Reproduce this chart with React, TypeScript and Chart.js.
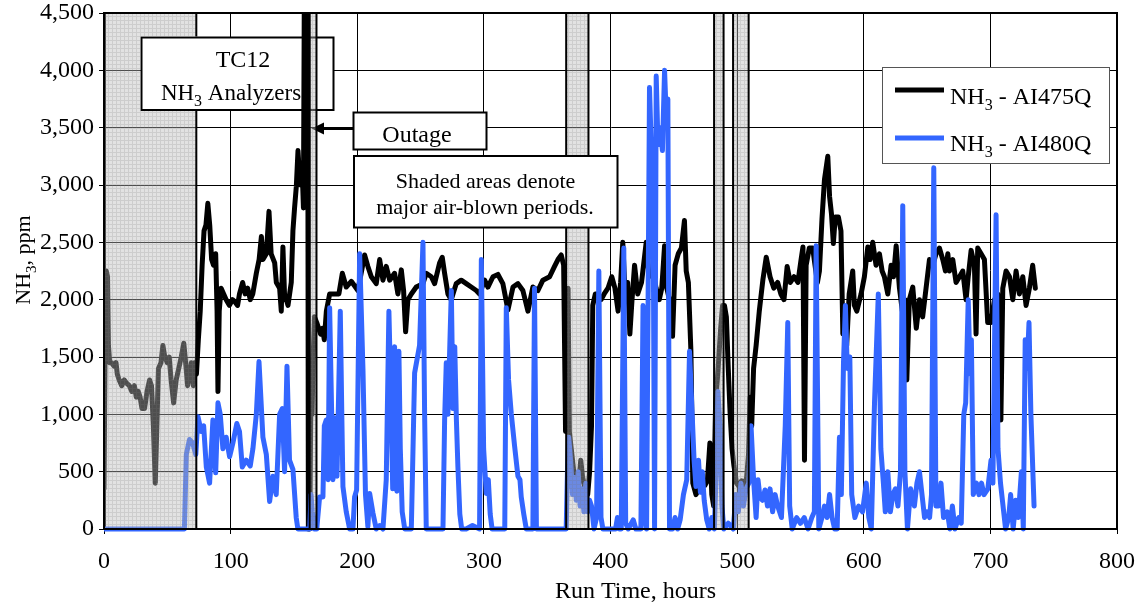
import React, { useEffect, useRef } from 'react';
import { Chart, registerables } from 'chart.js';

Chart.register(...registerables);

// ---------------- DATA ----------------
// NH3 - AI475Q (black)
const runHoursA = [
  0, 0.8, 1.8, 2.8, 3.5, 4.5, 6, 8, 9.5, 10.5, 12, 14, 16, 18, 20, 22, 24, 25.5, 27, 28.5, 30, 32, 34, 36, 37.5, 39, 40.5, 42, 43, 45, 46.5, 48, 50, 51.5, 53, 55, 57, 59, 61, 63, 64.5, 66, 67.5, 69, 70.5, 71.5, 73,
  74.5, 76, 77.5, 79, 80.5, 82, 83.5, 85, 86.5, 88.2, 89.3, 90, 91, 92.5, 94.5, 96.5, 99, 101.5, 103.5, 105.5, 107, 109.5, 111.5, 113.5, 115.5, 117.5, 120.3, 122.5, 124.3, 125.5, 128.2, 130.3, 132, 134.8, 136.1, 138.7, 140, 141.3, 142.7, 144, 145.3, 147.9, 149.2, 150.5, 151.9, 153.2, 154.3, 155.3, 156.6, 157.5,
  158.4, 160.8, 161.4, 162.5, 163.3, 164.3, 165.2, 166.2, 168, 169.5, 171, 172.5, 174, 175.6, 178.2, 180, 183.4, 185.5, 188.2, 191.3, 195.3, 200.5, 205.8, 208.4, 211.1, 215, 217.7, 220.3, 222.9, 225.6, 229.5, 232.1, 234.8, 236.6, 238.2, 240, 242.7, 246.6, 251.9, 254.5, 258.5, 261.1, 265, 267.1, 269, 271.6, 274.2, 278.2, 282.1, 286.1, 290, 294, 296.6, 300.6, 303.2, 307.2, 311.1, 315, 319, 323, 326.9, 330.8, 334.8, 338.7, 342.7, 346.6, 351.9, 355.8, 358.5, 361.1, 363,
  364.5, 365.5, 366.5, 367.5, 369, 371, 373, 375, 376.5, 378, 380, 382, 383.5, 385, 386, 388, 390, 392.5, 395, 398, 401, 403.5, 406, 408, 409.7, 411.5, 413.5, 415.3, 417, 419, 421.5, 424.5, 428.2, 430.5, 433.5, 436, 438.5, 440.5, 442.7, 444.5, 446.5, 449, 451, 453.5, 456, 458.4, 459.8, 461.5, 463.5, 465, 467.5, 470, 472.5, 474.5, 476.5, 478.5, 480, 481.5, 483, 485, 487, 488.5, 490, 491.5, 493, 494.5, 496, 497.5, 499.5, 501.5, 503.5, 505.5, 507.5, 509, 510.3, 511.5, 513, 515, 517.5, 520.3, 523, 526, 529, 532, 534.5, 537, 539.5, 542, 545, 548, 550.5, 552, 553.2, 554.5, 557, 559.7, 561.5, 563.4, 565, 567, 569, 571.6, 573, 574.5, 576, 577.5, 580, 582, 583.5, 585, 586.5, 588.5, 591.3, 592.6, 594.5, 597.9, 600.5, 603.2, 605, 607.1, 609.7, 612.4, 614.5, 616.3, 619, 621.6, 623.5, 625.6, 628.2, 630.5, 632.5, 634, 636, 638.7, 641.5, 644, 646.5, 649.2, 651.9, 654.5, 657.1, 659.8, 662.4, 664.5, 666.4, 667.7, 670.3, 672.9, 675.6, 678.2, 680.8, 682.5, 684.8, 687.4, 688.7, 690, 692.7, 695.3, 697.9, 700.6, 703.2, 705.8, 708.3, 709.8, 712.4, 715.1, 717.7, 720.3, 722.9, 725.6, 728.2, 730.8, 733.4, 735.5,
];
const nh3AI475Q = [
  350, 1500, 2250, 2200, 1600, 1450, 1450, 1420, 1450, 1350, 1300, 1250, 1300, 1270, 1250, 1200, 1250, 1150, 1200, 1150, 1050, 1050, 1200, 1300, 1250, 900, 400, 1000, 1400, 1450, 1600, 1500, 1450, 1500, 1300, 1100, 1300, 1400, 1500, 1620, 1450, 1250, 1350, 1450, 1250, 1450, 1350,
  1650, 1900, 2300, 2600, 2650, 2840, 2650, 2350, 2300, 2400, 1900, 1200, 1900, 2100, 2050, 2000, 1950, 2000, 1980, 1950, 2050, 2150, 2050, 2100, 2000, 2050, 2230, 2350, 2550, 2350, 2400, 2770, 2400, 2320, 2150, 2100, 1900, 2460, 2000, 2000, 1950, 2150, 2600, 2800, 2990, 3300, 3100, 3000, 3100, 2800,
  5200, 5200, 0, 0, 1050, 1000, 1500, 1850, 1800, 1750, 1700, 1750, 1650, 1900, 2050, 2050, 2050, 2050, 2230, 2110, 2160, 2080, 2390, 2290, 2200, 2140, 2350, 2170, 2290, 2170, 2230, 2050, 2260, 2080, 1720, 2000, 2050, 2110, 2140, 2230, 2200, 2140, 2320, 2370, 2230, 2050, 2000, 2140, 2170, 2140, 2110, 2080, 2050, 2170, 2110, 2200, 2220, 2140, 1910, 2110, 2140, 2080, 1900, 2110, 2080, 2170, 2200, 2290, 2350, 2390, 2300,
  850, 1500, 2100, 850, 700, 500, 450, 400, 600, 450, 350, 300, 500, 900, 1950, 2050, 2050, 2000, 2050, 2100, 2200, 2100, 1900, 2150, 2500, 2050, 2150, 1700, 2000, 2300, 2050, 2150, 2500, 2200, 2250, 2100, 2000, 2100, 2470, 2100, 2000, 1680, 2300, 2400, 2450, 2690, 2250, 2150, 1550, 400, 300, 350, 450, 380, 420, 750, 300, 200, 1100, 1400, 1750, 1950, 1950, 1850, 1400, 1000, 700, 550, 400, 370, 420, 380, 450, 650, 1150, 900, 1400, 1600, 1900, 2170, 2370, 2200, 2100, 2150, 2050, 2000, 2290, 2150, 2200, 2150, 2350, 2460, 600, 2300, 2450, 2450, 2300, 2150, 2250, 2700, 3050, 3250, 2900, 2750, 2490, 2720, 2720, 2600, 1700, 1900, 1600, 2050, 2250, 1950, 1900, 2050, 2200, 2460, 2350, 2500, 2300, 2400, 2250, 2200, 2050, 2300, 2200, 2470, 2100, 1900, 2000, 1300, 2000, 2110, 1750, 2000, 1850, 2100, 2350, 2300, 2400, 2450, 2350, 2250, 2400, 2250, 2350, 2150, 2200, 2250, 2000, 2200, 2430, 2300, 1700, 2450, 2400, 2350, 1800, 1800, 2000, 2050, 950, 2100, 2250, 2200, 2000, 2250, 2050, 2200, 1950, 2100, 2300, 2100,
];

// NH3 - AI480Q (blue)
const runHoursB = [
  0, 38, 63.5, 65, 67.5, 70, 72.5, 74.2, 76.8, 78.7, 80.8, 83.4, 86, 88.2, 90, 91.8, 93.9, 96.5, 99.2, 101.8, 104.9, 107, 109.2, 112.3, 115.5, 117.6, 120.3, 122.4, 125.5, 128.2, 130.8, 133.4, 136, 138.7, 140.8, 142.6, 144.5, 146.5, 149.2, 151.8, 153.1,
  162.5, 163.5, 164.5, 166, 168, 170.3, 172.9, 174, 175.5, 177, 178.2, 180.8, 182.1, 184, 186.6, 187.8, 188.7, 191.3, 194, 196.6, 197.9, 199.5, 201.9, 204.5, 206.5, 208.4, 209.8, 212.4, 215, 217.7, 220.3, 222.9, 225, 226.9, 228, 229.5, 231.3, 232.9, 234, 235.5, 237.5, 242.7, 245.3, 249.2, 251.9, 253.2, 254.5, 259.8, 267.7, 269, 270.3, 271.6, 274.3, 275.6, 277, 278.3, 279.5, 281, 282.5, 286, 291, 296.6, 298, 299.8, 301.9, 303.5, 305, 306.5, 312, 316.5, 317.7, 319.5, 321.6, 324.3, 326.9, 328.5, 329.5, 331.5, 333.5, 338.7, 340, 341.5, 365,
  366, 367, 368.5, 370, 371.5, 373, 374.5, 376, 377.5, 379, 380.5, 382, 383.5, 385, 387, 389, 390.8, 392.5, 394, 404, 405.5, 407, 408.5, 410.5, 412, 414, 418, 420, 424, 425.7, 427, 428.5, 430.8, 432, 433.5, 434.8, 436.1, 437.5, 439.3, 441, 442.7, 444, 445.3, 446.6, 449, 451, 453, 455, 457.6, 460.2, 462.4, 464.5, 466, 467.5, 469.5, 471, 472.5, 474, 476, 478, 480, 482, 483.5, 484.8, 486.5, 488, 489.5, 493, 497, 499, 501, 503, 505, 507, 509.2, 511, 513, 515, 516.5, 518, 520, 522, 524, 526, 528, 530, 532, 535, 538, 540, 541.5, 543.5, 547, 550, 553, 556, 559, 561, 562.4, 564.5, 567, 569, 571, 573, 575, 577, 579,
  580.8, 582.3, 584, 585.5, 587, 589, 590.5, 593, 596, 599, 602, 604, 606, 608.5, 611.5, 613.5, 615.5, 617, 619, 621, 623, 625, 627, 629, 630.8, 632.5, 634.5, 637, 640, 642, 644, 646, 648, 650, 652, 653.5, 655.3, 657, 659, 661, 663, 666, 668, 670, 672, 675, 677, 679, 680.5, 682.5, 684, 685, 686.5, 689, 691, 693, 695, 698, 700.5, 702, 704.5, 706, 708, 710, 712, 714.5, 716, 718, 720, 722, 724.5, 726, 727.5, 729, 730.5, 732, 734.5,
];
const nh3AI480Q = [
  0, 0, 0, 650, 780, 750, 650, 980, 850, 900, 540, 400, 950, 490, 1100, 1000, 700, 800, 630, 750, 920, 850, 540, 600, 550, 700, 1000, 1460, 800, 650, 240, 460, 300, 1000, 1050, 500, 1420, 600, 520, 100, 0,
  0, 300, 150, 0, 0, 280, 280, 900, 950, 430, 1930, 430, 970, 460, 1900, 1000, 370, 150, 0, 0, 280, 340, 2400, 1400, 300, 20, 310, 140, 0, 30, 0, 430, 1900, 1000, 350, 1590, 330, 1550, 700, 150, 0, 0, 1360, 1600, 2500, 1000, 0, 0, 0, 950, 1450, 1000, 2080, 1050, 1590, 950, 540, 130, 0, 0, 30, 0, 2350, 700, 310, 430, 130, 0, 0, 0, 1930, 1300, 1010, 720, 460, 430, 280, 130, 0, 0, 2100, 0, 0,
  500, 800, 600, 300, 450, 250, 500, 200, 350, 150, 400, 150, 250, 200, 0, 100, 2250, 100, 0, 0, 100, 0, 0, 2450, 50, 0, 80, 0, 0, 1950, 100, 0, 3850, 3400, 3300, 0, 3950, 3350, 3500, 3300, 4000, 3600, 3750, 0, 0, 100, 0, 80, 300, 430, 1550, 1000, 600, 370, 600, 320, 500, 250, 80, 0, 100, 0, 500, 1200, 900, 200, 0, 50, 0, 300, 150, 400, 200, 350, 400, 900, 430, 100, 430, 280, 250, 340, 200, 350, 150, 300, 200, 100, 900, 1800, 200, 0, 100, 50, 100, 0, 100, 150, 2470, 0, 100, 200, 100, 300, 100, 0, 0,
  800, 300, 1450, 1950, 1400, 1500, 300, 100, 200, 150, 400, 100, 0, 1100, 2050, 700, 400, 150, 500, 150, 300, 350, 200, 500, 2820, 500, 0, 350, 200, 400, 500, 300, 100, 150, 100, 300, 3150, 200, 200, 400, 100, 150, 0, 200, 0, 100, 50, 1000, 1100, 2000, 1350, 1650, 300, 400, 300, 400, 300, 350, 600, 400, 2740, 700, 400, 200, 0, 100, 300, 0, 250, 100, 500, 0, 1650, 1400, 1800, 1000, 200,
];

// Shaded air-blown periods (hours)
const airBlownStart = [0, 162.4, 365.0, 481.8, 496.8];
const airBlownEnd = [72.9, 167.8, 382.6, 489.3, 509.1];

const xMin = 0, xMax = 800, xStep = 100;
const yMin = 0, yMax = 4500, yStep = 500;

const seriesLabels = ['NH3 - AI475Q', 'NH3 - AI480Q'];
const seriesColors = ['#000000', '#3366ff'];

// ---------------- DRAWING HELPERS ----------------
const FONT = '"Liberation Serif", "Times New Roman", Times, serif';
const f = (s: number) => `${s}px ${FONT}`;

const TC_BOX = { x: 141.5, y: 37.5, w: 192, h: 72.5 };

function drawNH3(ctx: CanvasRenderingContext2D, x: number, y: number, size: number, suffix: string, align: 'left' | 'center') {
  const subSize = Math.round(size * 0.68);
  ctx.font = f(size);
  const w1 = ctx.measureText('NH').width;
  const w3 = ctx.measureText(suffix).width;
  ctx.font = f(subSize);
  const w2 = ctx.measureText('3').width;
  const total = w1 + w2 + w3;
  const x0 = align === 'center' ? x - total / 2 : x;
  ctx.textAlign = 'left';
  ctx.textBaseline = 'alphabetic';
  ctx.fillStyle = '#000';
  ctx.font = f(size);
  ctx.fillText('NH', x0, y);
  ctx.font = f(subSize);
  ctx.fillText('3', x0 + w1, y + size * 0.27);
  ctx.font = f(size);
  ctx.fillText(suffix, x0 + w1 + w2, y);
}

function drawTCBox(ctx: CanvasRenderingContext2D) {
  ctx.save();
  ctx.fillStyle = '#fff';
  ctx.fillRect(TC_BOX.x, TC_BOX.y, TC_BOX.w, TC_BOX.h);
  ctx.strokeStyle = '#000';
  ctx.lineWidth = 2;
  ctx.strokeRect(TC_BOX.x, TC_BOX.y, TC_BOX.w, TC_BOX.h);
  ctx.fillStyle = '#000';
  ctx.font = f(24);
  ctx.textAlign = 'center';
  ctx.textBaseline = 'alphabetic';
  ctx.fillText('TC12', 243, 67);
  drawNH3(ctx, 231, 100, 23, ' Analyzers', 'center');
  ctx.restore();
}

let patternCache: CanvasPattern | null = null;
function getPattern(ctx: CanvasRenderingContext2D) {
  if (patternCache) return patternCache;
  const c = document.createElement('canvas');
  c.width = 4; c.height = 4;
  const g = c.getContext('2d')!;
  g.fillStyle = 'rgba(185,185,185,0.42)';
  g.fillRect(0, 0, 4, 4);
  g.fillStyle = 'rgba(120,120,120,0.2)';
  g.fillRect(0, 0, 4, 1);
  g.fillRect(0, 1, 1, 3);
  patternCache = ctx.createPattern(c, 'repeat');
  return patternCache;
}

const decorPlugin = {
  id: 'decor',
  beforeDatasetsDraw(chart: any) {
    drawTCBox(chart.ctx);
  },
  afterDatasetsDraw(chart: any) {
    const { ctx, chartArea, scales } = chart;
    const xs = scales.x;
    ctx.save();
    // Outage arrow
    ctx.strokeStyle = '#000';
    ctx.fillStyle = '#000';
    ctx.lineWidth = 3;
    ctx.beginPath();
    ctx.moveTo(353, 128.5);
    ctx.lineTo(320, 128.5);
    ctx.stroke();
    ctx.beginPath();
    ctx.moveTo(311.5, 128.5);
    ctx.lineTo(324, 122.5);
    ctx.lineTo(324, 134.5);
    ctx.closePath();
    ctx.fill();

    // Shaded air-blown regions
    const pat = getPattern(ctx);
    for (let i = 0; i < airBlownStart.length; i++) {
      const l = xs.getPixelForValue(airBlownStart[i]);
      const r = xs.getPixelForValue(airBlownEnd[i]);
      ctx.save();
      if (i === 0) {
        ctx.beginPath();
        ctx.rect(0, 0, chart.width, chart.height);
        ctx.rect(TC_BOX.x - 1, TC_BOX.y - 1, TC_BOX.w + 2, TC_BOX.h + 2);
        ctx.clip('evenodd');
      }
      ctx.fillStyle = pat as any;
      ctx.fillRect(l, chartArea.top, r - l, chartArea.bottom - chartArea.top);
      ctx.strokeStyle = '#000';
      ctx.lineWidth = 2;
      ctx.strokeRect(l, chartArea.top, r - l, chartArea.bottom - chartArea.top);
      ctx.restore();
    }

    // plot frame
    ctx.strokeStyle = '#000';
    ctx.lineWidth = 2;
    ctx.strokeRect(chartArea.left, chartArea.top, chartArea.right - chartArea.left, chartArea.bottom - chartArea.top);

    // Outage box
    ctx.fillStyle = '#fff';
    ctx.fillRect(353.5, 112.5, 133, 37);
    ctx.strokeStyle = '#000';
    ctx.lineWidth = 2;
    ctx.strokeRect(353.5, 112.5, 133, 37);
    ctx.fillStyle = '#000';
    ctx.font = f(24);
    ctx.textAlign = 'center';
    ctx.textBaseline = 'alphabetic';
    ctx.fillText('Outage', 417, 141.5);

    // Shaded areas note
    ctx.fillStyle = '#fff';
    ctx.fillRect(354, 156, 263.5, 71.5);
    ctx.strokeStyle = '#000';
    ctx.strokeRect(354, 156, 263.5, 71.5);
    ctx.fillStyle = '#000';
    ctx.font = f(22);
    ctx.fillText('Shaded areas denote', 485.5, 187.5);
    ctx.fillText('major air-blown periods.', 485, 213.5);

    // Legend
    ctx.fillStyle = '#fff';
    ctx.fillRect(882, 67, 227, 96);
    ctx.strokeStyle = '#555';
    ctx.lineWidth = 1;
    ctx.strokeRect(882.5, 67.5, 227, 96);
    const ly = [90, 138];
    const lb = [104, 151];
    for (let i = 0; i < 2; i++) {
      ctx.strokeStyle = seriesColors[i];
      ctx.lineWidth = 5;
      ctx.beginPath();
      ctx.moveTo(895, ly[i]);
      ctx.lineTo(944, ly[i]);
      ctx.stroke();
      drawNH3(ctx, 950, lb[i], 24, seriesLabels[i].slice(3), 'left');
    }
    ctx.restore();
  },
  afterDraw(chart: any) {
    const { ctx } = chart;
    ctx.save();
    ctx.fillStyle = '#000';
    ctx.font = f(24);
    ctx.textAlign = 'center';
    ctx.textBaseline = 'alphabetic';
    ctx.fillText('Run Time, hours', 635.5, 598);
    ctx.translate(30, 260);
    ctx.rotate(-Math.PI / 2);
    drawNH3(ctx, 0, 0, 22, ', ppm', 'center');
    ctx.restore();
  },
};

export default function App() {
  const ref = useRef<HTMLCanvasElement | null>(null);
  useEffect(() => {
    document.body.style.margin = '0';
    const canvas = ref.current!;
    const clip = { left: 0, top: 0, right: 0, bottom: 4 };
    const chart = new Chart(canvas, {
      type: 'line',
      data: {
        datasets: [
          {
            label: seriesLabels[0],
            data: runHoursA.map((h, i) => ({ x: h, y: nh3AI475Q[i] })),
            borderColor: seriesColors[0],
            backgroundColor: seriesColors[0],
            borderWidth: 5,
            pointRadius: 0,
            tension: 0,
            order: 1,
            clip: clip as any,
            borderJoinStyle: 'round',
            borderCapStyle: 'round',
          },
          {
            label: seriesLabels[1],
            data: runHoursB.map((h, i) => ({ x: h, y: nh3AI480Q[i] })),
            borderColor: seriesColors[1],
            backgroundColor: seriesColors[1],
            borderWidth: 5,
            pointRadius: 0,
            tension: 0,
            order: 0,
            clip: clip as any,
            borderJoinStyle: 'round',
            borderCapStyle: 'round',
          },
        ],
      },
      options: {
        responsive: false,
        animation: false,
        devicePixelRatio: 1,
        layout: { padding: { top: 13, right: 31, left: 0, bottom: 0 } },
        plugins: { legend: { display: false }, tooltip: { enabled: false } },
        scales: {
          x: {
            type: 'linear',
            min: xMin,
            max: xMax,
            ticks: {
              stepSize: xStep,
              color: '#000',
              font: { family: FONT, size: 24, lineHeight: 1 },
              padding: 16,
              maxRotation: 0,
              autoSkip: false,
            },
            grid: { color: '#000', lineWidth: 1, tickLength: 5, drawTicks: true },
            border: { color: '#000', width: 2 },
            afterFit: (s: any) => { s.height = 77; s.paddingLeft = 0; s.paddingRight = 0; },
          },
          y: {
            min: yMin,
            max: yMax,
            ticks: {
              stepSize: yStep,
              color: '#000',
              font: { family: FONT, size: 24, lineHeight: 1 },
              padding: 5,
              callback: (v: any) => Number(v).toLocaleString('en-US'),
            },
            grid: { color: '#000', lineWidth: 1, tickLength: 5, drawTicks: true },
            border: { color: '#000', width: 3 },
            afterFit: (s: any) => { s.width = 104; s.paddingTop = 0; s.paddingBottom = 0; },
          },
        },
      },
      plugins: [decorPlugin],
    } as any);
    return () => chart.destroy();
  }, []);
  return (
    <div style={{ width: 1148, height: 606 }}>
      <canvas ref={ref} width={1148} height={606} style={{ display: 'block' }} />
    </div>
  );
}
